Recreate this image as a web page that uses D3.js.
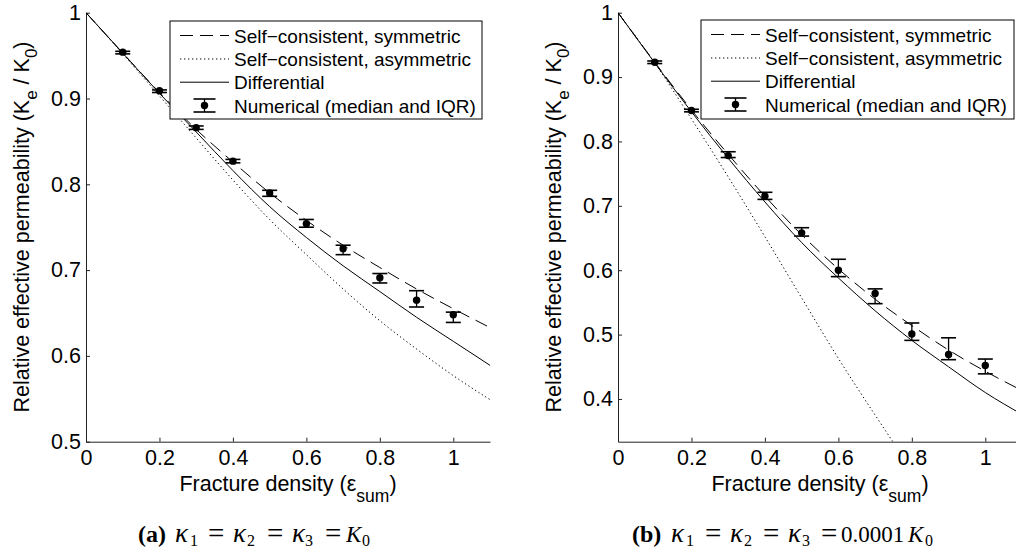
<!DOCTYPE html>
<html><head><meta charset="utf-8">
<script src="https://cdn.jsdelivr.net/npm/d3@7"></script>
<style>body{margin:0;background:#fff} svg{display:block}</style>
</head><body>
<svg id="c" width="1016" height="552"></svg>
<script>
// ---------------- data ----------------
const xGrid = [0, 0.1, 0.2, 0.3, 0.4, 0.5, 0.6, 0.7, 0.8, 0.9, 1.0, 1.1];
const xTickValues = [0, 0.2, 0.4, 0.6, 0.8, 1];
const numX = [0.1, 0.2, 0.3, 0.4, 0.5, 0.6, 0.7, 0.8, 0.9, 1.0];
const leftYTicks = [0.5, 0.6, 0.7, 0.8, 0.9, 1];
const rightYTicks = [0.4, 0.5, 0.6, 0.7, 0.8, 0.9, 1];

// panel (a)
const leftSym  = [1, 0.953, 0.907, 0.864, 0.826, 0.790, 0.758, 0.729, 0.703, 0.678, 0.655, 0.633];
const leftAsym = [1, 0.952, 0.903, 0.854, 0.805, 0.759, 0.718, 0.678, 0.641, 0.608, 0.577, 0.549];
const leftDiff = [1, 0.953, 0.906, 0.861, 0.816, 0.774, 0.738, 0.705, 0.675, 0.645, 0.617, 0.589];
const leftMed = [0.954, 0.909, 0.866, 0.827, 0.790, 0.754, 0.725, 0.691, 0.665, 0.648];
const leftLo  = [0.952, 0.907, 0.864, 0.825, 0.786, 0.750, 0.718, 0.685, 0.657, 0.639];
const leftHi  = [0.955, 0.910, 0.868, 0.829, 0.793, 0.759, 0.729, 0.696, 0.676, 0.651];

// panel (b)
const rightSym  = [1, 0.923, 0.849, 0.780, 0.715, 0.655, 0.602, 0.555, 0.514, 0.476, 0.443, 0.413];
const rightDiff = [1, 0.922, 0.846, 0.774, 0.706, 0.643, 0.588, 0.537, 0.491, 0.450, 0.410, 0.376];
const rightAsymX = [0, 0.1, 0.2, 0.3, 0.4, 0.5, 0.6, 0.7, 0.8];
const rightAsym  = [1, 0.922, 0.835, 0.745, 0.652, 0.557, 0.463, 0.375, 0.290];
const rightMed = [0.923, 0.848, 0.778, 0.715, 0.658, 0.600, 0.564, 0.501, 0.469, 0.452];
const rightLo  = [0.921, 0.846, 0.775, 0.710, 0.653, 0.590, 0.548, 0.491, 0.461, 0.439];
const rightHi  = [0.925, 0.850, 0.784, 0.721, 0.666, 0.617, 0.571, 0.518, 0.495, 0.462];

const legendLabels = ["Self\u2212consistent, symmetric", "Self\u2212consistent, asymmetric", "Differential", "Numerical (median and IQR)"];

// caption pieces: [text, style]  (style: b = bold, i = italic math, s = subscript, o = operator, n = normal)
const captionA = [["(a)", "b"], ["\u03ba", "i"], ["1", "s"], ["=", "o"], ["\u03ba", "i"], ["2", "s"], ["=", "o"], ["\u03ba", "i"], ["3", "s"], ["=", "o"], ["K", "i"], ["0", "s"]];
const captionB = [["(b)", "b"], ["\u03ba", "i"], ["1", "s"], ["=", "o"], ["\u03ba", "i"], ["2", "s"], ["=", "o"], ["\u03ba", "i"], ["3", "s"], ["=", "o"], ["0.0001", "n"], ["K", "i"], ["0", "s"]];
// horizontal offsets of caption pieces (layout)
const capOffA = [0, 37, 52, 70, 95, 109, 129, 154, 167, 187, 208, 224];
const capOffB = [0, 39, 54, 73, 98, 112, 131, 156, 170, 189, 209, 276, 293];

// ---------------- drawing ----------------
const svg = d3.select("#c");
const SANS = "'Liberation Sans', Arial, Helvetica, sans-serif";
const SERIF = "'Liberation Serif', 'Times New Roman', serif";
const AX = "#222";

const panels = [
  { id: "a", x0: 86, yTop: 12.7, yBot: 441.7, yDomain: [0.5, 1], yTicks: leftYTicks,
    sym: leftSym, diff: leftDiff, asymX: xGrid, asym: leftAsym, med: leftMed, lo: leftLo, hi: leftHi,
    legend: { x: 170, y: 21, w: 312, h: 98 }, caption: { x: 138, parts: captionA, off: capOffA } },
  { id: "b", x0: 618, yTop: 12.7, yBot: 441.7, yDomain: [0.3336, 1], yTicks: rightYTicks,
    sym: rightSym, diff: rightDiff, asymX: rightAsymX, asym: rightAsym, med: rightMed, lo: rightLo, hi: rightHi,
    legend: { x: 701, y: 20, w: 313, h: 99 }, caption: { x: 632, parts: captionB, off: capOffB } }
];

panels.forEach(p => {
  const x = d3.scaleLinear().domain([0, 1.1]).range([p.x0, p.x0 + 367.3 * 1.1]);
  const y = d3.scaleLinear().domain(p.yDomain).range([p.yBot, p.yTop]);
  const g = svg.append("g");

  const clipId = "clip" + p.id;
  svg.append("clipPath").attr("id", clipId).append("rect")
    .attr("x", p.x0).attr("y", p.yTop - 3).attr("width", 367.3 * 1.1).attr("height", p.yBot - p.yTop + 3);

  // axes
  const xAxis = d3.axisBottom(x).tickValues(xTickValues).tickSizeInner(-4).tickSizeOuter(0).tickPadding(8)
    .tickFormat(d => d3.format("~g")(d));
  const gx = g.append("g").attr("transform", `translate(0,${p.yBot})`).call(xAxis);
  const yAxis = d3.axisLeft(y).tickValues(p.yTicks).tickSizeInner(-4).tickSizeOuter(0).tickPadding(5)
    .tickFormat(d => d3.format("~g")(d));
  const gy = g.append("g").attr("transform", `translate(${p.x0},0)`).call(yAxis);
  [gx, gy].forEach(a => {
    a.selectAll("path, line").attr("stroke", AX).attr("stroke-width", 1);
    a.selectAll("text").attr("font-family", SANS).attr("font-size", 21.5).attr("fill", "#000");
  });
  gx.selectAll("text").attr("dy", "0.71em");

  // axis labels
  const xl = g.append("text").attr("x", p.x0 + 202).attr("y", 491).attr("text-anchor", "middle")
    .attr("font-family", SANS).attr("font-size", 21.5);
  xl.append("tspan").text("Fracture density (\u03b5");
  xl.append("tspan").attr("font-size", 17.5).attr("dy", 10.5).text("sum");
  xl.append("tspan").attr("dy", -10.5).text(")");

  const yl = g.append("text").attr("transform", `translate(${p.x0 - 57},227) rotate(-90)`)
    .attr("text-anchor", "middle").attr("font-family", SANS).attr("font-size", 21.5);
  yl.append("tspan").text("Relative effective permeability (K");
  yl.append("tspan").attr("font-size", 17).attr("dy", 8).text("e");
  yl.append("tspan").attr("dy", -8).text(" / K");
  yl.append("tspan").attr("font-size", 17).attr("dy", 8).text("0");
  yl.append("tspan").attr("dy", -8).text(")");

  // curves
  const line = d3.line().x(d => x(d[0])).y(d => y(d[1])).curve(d3.curveMonotoneX);
  const cg = g.append("g").attr("clip-path", `url(#${clipId})`).attr("fill", "none").attr("stroke", "#000").attr("stroke-width", 1);
  cg.append("path").attr("d", line(xGrid.map((v, i) => [v, p.sym[i]]))).attr("stroke-dasharray", "13,7");
  cg.append("path").attr("d", line(p.asymX.map((v, i) => [v, p.asym[i]]))).attr("stroke-dasharray", "1.3,2.7");
  cg.append("path").attr("d", line(xGrid.map((v, i) => [v, p.diff[i]])));

  // numerical with error bars
  const eg = g.append("g").attr("stroke", "#000").attr("stroke-width", 1.6);
  numX.forEach((v, i) => {
    const cx = x(v);
    eg.append("line").attr("x1", cx).attr("x2", cx).attr("y1", y(p.lo[i])).attr("y2", y(p.hi[i])).attr("stroke-width", 1.3);
    eg.append("line").attr("x1", cx - 7.5).attr("x2", cx + 7.5).attr("y1", y(p.lo[i])).attr("y2", y(p.lo[i]));
    eg.append("line").attr("x1", cx - 7.5).attr("x2", cx + 7.5).attr("y1", y(p.hi[i])).attr("y2", y(p.hi[i]));
    g.append("circle").attr("cx", cx).attr("cy", y(p.med[i])).attr("r", 3.7).attr("fill", "#000");
  });

  // legend
  const L = p.legend;
  const lg = g.append("g");
  lg.append("rect").attr("x", L.x).attr("y", L.y).attr("width", L.w).attr("height", L.h)
    .attr("fill", "#fff").attr("stroke", "#000").attr("stroke-width", 1);
  const rowY = [L.y + 14.5, L.y + 38, L.y + 61.2, L.y + 84.5];
  const sx0 = L.x + 10, sx1 = L.x + 59, tx = L.x + 64;
  lg.append("line").attr("x1", sx0).attr("x2", sx1).attr("y1", rowY[0]).attr("y2", rowY[0])
    .attr("stroke", "#000").attr("stroke-dasharray", "13,7");
  lg.append("line").attr("x1", sx0).attr("x2", sx1).attr("y1", rowY[1]).attr("y2", rowY[1])
    .attr("stroke", "#000").attr("stroke-dasharray", "1.3,2.7");
  lg.append("line").attr("x1", sx0).attr("x2", sx1).attr("y1", rowY[2]).attr("y2", rowY[2])
    .attr("stroke", "#000");
  const ex = (sx0 + sx1) / 2;
  lg.append("line").attr("x1", ex).attr("x2", ex).attr("y1", rowY[3] - 6.5).attr("y2", rowY[3] + 6.5).attr("stroke", "#000").attr("stroke-width", 1.3);
  lg.append("line").attr("x1", ex - 11).attr("x2", ex + 11).attr("y1", rowY[3] - 6.5).attr("y2", rowY[3] - 6.5).attr("stroke", "#000").attr("stroke-width", 1.6);
  lg.append("line").attr("x1", ex - 11).attr("x2", ex + 11).attr("y1", rowY[3] + 6.5).attr("y2", rowY[3] + 6.5).attr("stroke", "#000").attr("stroke-width", 1.6);
  lg.append("circle").attr("cx", ex).attr("cy", rowY[3]).attr("r", 3.7).attr("fill", "#000");
  legendLabels.forEach((t, i) => {
    lg.append("text").attr("x", tx).attr("y", rowY[i] + 7).attr("font-family", SANS).attr("font-size", 19).text(t);
  });

  // caption
  const C = p.caption;
  const base = 542;
  C.parts.forEach((pt, i) => {
    const [t, st] = pt;
    const tt = svg.append("text").attr("x", C.x + C.off[i]).attr("font-family", SERIF).text(t);
    if (st === "b") tt.attr("y", base).attr("font-size", 24).attr("font-weight", "bold");
    else if (st === "i") tt.attr("y", base).attr("font-size", t === "K" ? 23 : 27).attr("font-style", "italic");
    else if (st === "s") tt.attr("y", base + 3.5).attr("font-size", 16);
    else if (st === "o") tt.attr("y", base + 1).attr("font-size", 29);
    else tt.attr("y", base).attr("font-size", 23);
  });
});
</script>
</body></html>
